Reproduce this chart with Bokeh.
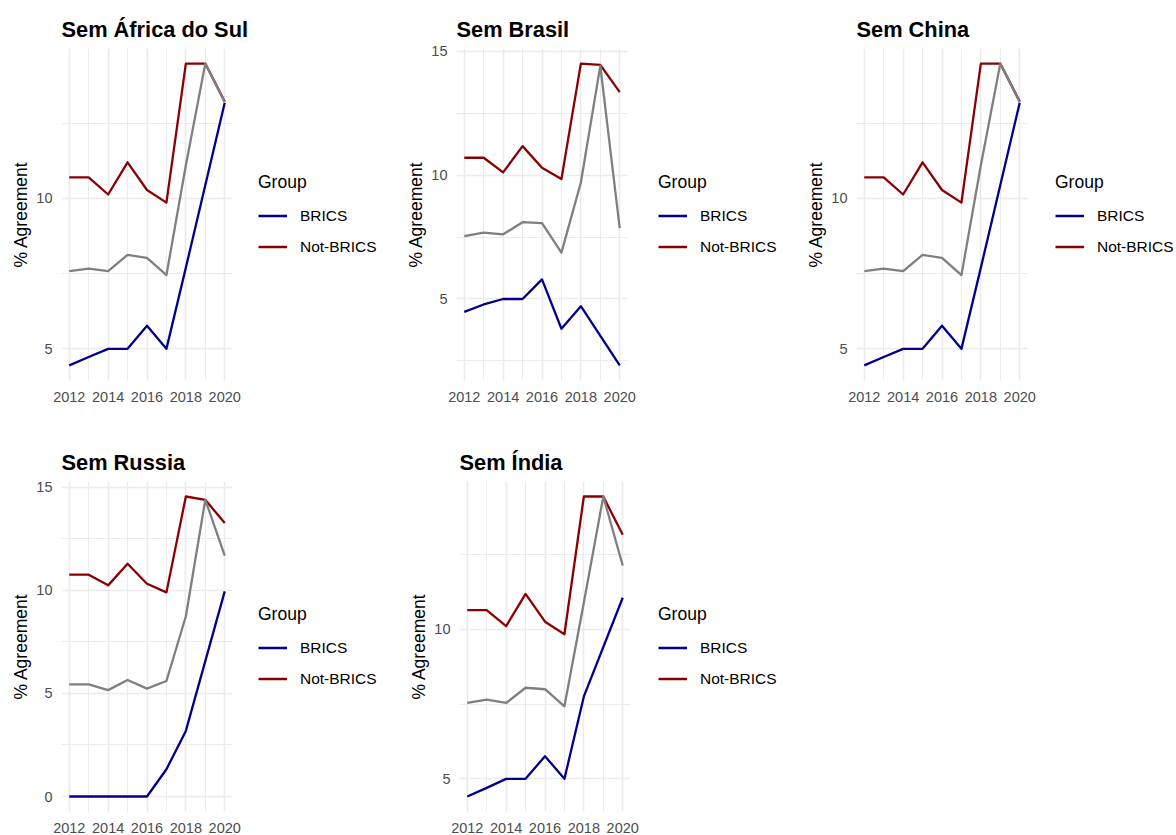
from bokeh.plotting import figure
from bokeh.layouts import row, column
from bokeh.models import FixedTicker, Legend, LegendItem, Range1d
from bokeh.embed import file_html
from bokeh.resources import INLINE

years = [2012, 2013, 2014, 2015, 2016, 2017, 2018, 2019, 2020]
year_ticks = [2012, 2014, 2016, 2018, 2020]
year_minor = [2013, 2015, 2017, 2019]
y_ticks = [0, 5, 10, 15]
y_minor = [2.5, 7.5, 12.5]

titles = ["Sem África do Sul", "Sem Brasil", "Sem China", "Sem Russia", "Sem Índia"]
groups = ["BRICS", "Not-BRICS"]

# Not-BRICS (dark red)
notbrics_sem_africa = [10.7, 10.7, 10.13, 11.2, 10.28, 9.86, 14.48, 14.48, 13.22]
notbrics_sem_brasil = [10.7, 10.7, 10.11, 11.17, 10.3, 9.84, 14.5, 14.45, 13.35]
notbrics_sem_china = [10.7, 10.7, 10.13, 11.2, 10.28, 9.86, 14.48, 14.48, 13.22]
notbrics_sem_russia = [10.76, 10.76, 10.24, 11.29, 10.32, 9.9, 14.55, 14.39, 13.26]
notbrics_sem_india = [10.65, 10.65, 10.11, 11.19, 10.26, 9.84, 14.45, 14.45, 13.17]

# overall (gray)
overall_sem_africa = [7.58, 7.67, 7.58, 8.12, 8.02, 7.45, 11.1, 14.48, 13.2]
overall_sem_brasil = [7.54, 7.68, 7.61, 8.10, 8.06, 6.87, 9.70, 14.41, 7.86]
overall_sem_china = [7.58, 7.67, 7.58, 8.12, 8.02, 7.45, 11.1, 14.48, 13.2]
overall_sem_russia = [5.44, 5.44, 5.16, 5.65, 5.23, 5.6, 8.74, 14.39, 11.68]
overall_sem_india = [7.54, 7.65, 7.54, 8.05, 8.0, 7.43, 10.9, 14.45, 12.14]

# BRICS (dark blue), no value for 2019
brics_sem_africa = [4.45, 4.73, 5.0, 5.0, 5.77, 5.0, 7.7, None, 13.18]
brics_sem_brasil = [4.48, 4.78, 5.0, 5.0, 5.79, 3.80, 4.71, None, 2.32]
brics_sem_china = [4.45, 4.73, 5.0, 5.0, 5.77, 5.0, 7.7, None, 13.18]
brics_sem_russia = [0, 0, 0, 0, 0, 1.32, 3.18, None, 9.95]
brics_sem_india = [4.41, 4.7, 5.0, 5.0, 5.76, 5.0, 7.76, None, 11.06]

BLUE = "#00008B"
RED = "#8B0000"
GRAY = "#7F7F7F"
GRID = "#EBEBEB"
FONT = "Liberation Sans"


def present(xs, ys):
    pts = [(x, y) for x, y in zip(xs, ys) if y is not None]
    return [p[0] for p in pts], [p[1] for p in pts]


def panel(title, red, gray, blue, width, height, top, frame_h, left, legend_x):
    vals = [v for v in red + gray + blue if v is not None]
    lo, hi = min(vals), max(vals)
    pad = (hi - lo) * 0.05
    frame_w = 171
    right = 22
    bottom = height - top - frame_h
    pw = left + frame_w + right
    p = figure(width=pw, height=height, output_backend="svg", toolbar_location=None,
               x_range=Range1d(2011.6, 2020.4), y_range=Range1d(lo - pad, hi + pad),
               min_border_left=left, min_border_right=right,
               min_border_top=top, min_border_bottom=bottom)
    p.outline_line_color = None
    p.background_fill_color = "white"
    p.border_fill_color = "white"

    p.title.text = title
    p.title.text_font = FONT
    p.title.text_font_size = "21.8px"
    p.title.text_font_style = "bold"
    p.title.text_color = "black"
    p.title.align = "left"
    p.title.standoff = 13

    p.xaxis.ticker = FixedTicker(ticks=year_ticks, minor_ticks=year_minor)
    p.yaxis.ticker = FixedTicker(ticks=y_ticks, minor_ticks=y_minor)
    for ax in (p.xaxis[0], p.yaxis[0]):
        ax.axis_line_color = None
        ax.major_tick_line_color = None
        ax.minor_tick_line_color = None
        ax.major_tick_out = 0
        ax.major_tick_in = 0
        ax.minor_tick_out = 0
        ax.minor_tick_in = 0
        ax.major_label_text_font = FONT
        ax.major_label_text_font_size = "14.5px"
        ax.major_label_text_color = "#4D4D4D"
    p.xaxis.major_label_standoff = 11
    p.yaxis.major_label_standoff = 9
    p.yaxis.axis_label = "% Agreement"
    p.yaxis.axis_label_text_font = FONT
    p.yaxis.axis_label_text_font_size = "17.5px"
    p.yaxis.axis_label_text_font_style = "normal"
    p.yaxis.axis_label_text_color = "black"
    p.yaxis.axis_label_standoff = 2

    for g in (p.xgrid[0], p.ygrid[0]):
        g.grid_line_color = GRID
        g.grid_line_width = 1.6
        g.minor_grid_line_color = GRID
        g.minor_grid_line_width = 1.1

    bx, by = present(years, blue)
    p.line(bx, by, line_color=BLUE, line_width=2.3, line_join="round")
    p.line(years, red, line_color=RED, line_width=2.3, line_join="round")
    p.line(years, gray, line_color=GRAY, line_width=2.3, line_join="round")

    # legend area to the right of the panel (its lines lie outside its view)
    lw = width - pw
    lf = figure(width=lw, height=height, output_backend="svg", toolbar_location=None,
                x_range=Range1d(0, 1), y_range=Range1d(0, 1),
                min_border_left=0, min_border_right=0,
                min_border_top=top, min_border_bottom=bottom)
    lf.axis.visible = False
    lf.grid.visible = False
    lf.outline_line_color = None
    lf.border_fill_color = "white"
    kb = lf.line(bx, by, line_color=BLUE, line_width=2.3)
    kr = lf.line(years, red, line_color=RED, line_width=2.3)
    legend = Legend(items=[LegendItem(label=groups[0], renderers=[kb]),
                           LegendItem(label=groups[1], renderers=[kr])],
                    title="Group", location="left")
    legend.border_line_color = None
    legend.background_fill_alpha = 0
    legend.padding = 0
    legend.margin = max(legend_x - pw, 0)
    legend.glyph_width = 29
    legend.glyph_height = 20
    legend.spacing = 11
    legend.label_standoff = 13
    legend.label_text_font = FONT
    legend.label_text_font_size = "15.5px"
    legend.label_text_color = "black"
    legend.title_text_font = FONT
    legend.title_text_font_size = "17.5px"
    legend.title_text_font_style = "normal"
    legend.title_text_color = "black"
    legend.title_standoff = 13
    lf.add_layout(legend, "center")
    return row(p, lf)


p1 = panel(titles[0], notbrics_sem_africa, overall_sem_africa, brics_sem_africa, 397, 432, 48, 332, 61, 258)
p2 = panel(titles[1], notbrics_sem_brasil, overall_sem_brasil, brics_sem_brasil, 397, 432, 48, 332, 59, 261)
p3 = panel(titles[2], notbrics_sem_china, overall_sem_china, brics_sem_china, 382, 432, 48, 332, 62, 261)
p4 = panel(titles[3], notbrics_sem_russia, overall_sem_russia, brics_sem_russia, 397, 403, 49, 330, 61, 258)
p5 = panel(titles[4], notbrics_sem_india, overall_sem_india, brics_sem_india, 397, 403, 49, 330, 62, 261)

layout = column(row(p1, p2, p3), row(p4, p5))
open("out.html", "w").write(file_html(layout, INLINE))
